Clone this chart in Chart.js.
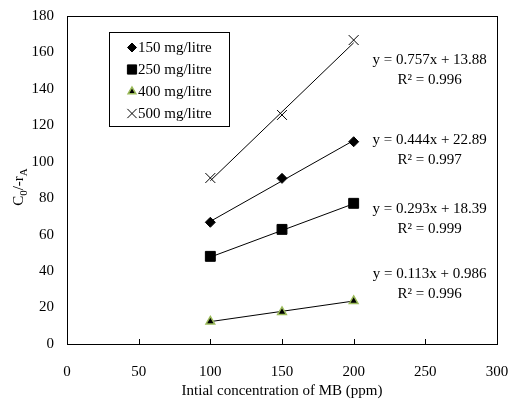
<!DOCTYPE html>
<html>
<head>
<meta charset="utf-8">
<script src="https://cdn.jsdelivr.net/npm/chart.js@4/dist/chart.umd.min.js"></script>
<style>
  body { margin: 0; background: #fff; }
  #wrap { width: 510px; height: 400px; }
</style>
</head>
<body>
<div id="wrap"><canvas id="kinetics_chart" width="510" height="400"></canvas></div>
<script>
// initial MB concentration (ppm)
const xValues = [100, 150, 200];
// C0/-rA for each dose
const series150 = [66.8, 90.9, 111.0];
const series250 = [48.1, 62.9, 77.2];
const series400 = [12.4, 17.6, 23.6];
const series500 = [91.1, 125.7, 166.8];
const seriesNames = ['150 mg/litre', '250 mg/litre', '400 mg/litre', '500 mg/litre'];
// linear trendlines as printed on the chart
const slopes = [0.444, 0.293, 0.113, 0.757];
const intercepts = [22.89, 18.39, 0.986, 13.88];
const eqLabels = ['y = 0.444x + 22.89', 'y = 0.293x + 18.39', 'y = 0.113x + 0.986', 'y = 0.757x + 13.88'];
const r2Labels = ['R\u00b2 = 0.997', 'R\u00b2 = 0.999', 'R\u00b2 = 0.996', 'R\u00b2 = 0.996'];
const xTicks = [0, 50, 100, 150, 200, 250, 300];
const yTicks = [0, 20, 40, 60, 80, 100, 120, 140, 160, 180];

const FONT = "'Liberation Serif', 'Times New Roman', serif";
const allSeries = [series150, series250, series400, series500];
const markers = [
  { pointStyle: 'rectRot', radius: 5, bg: '#000', border: '#000', bw: 1 },
  { pointStyle: 'rect', radius: 7, bg: '#000', border: '#000', bw: 1 },
  { pointStyle: 'triangle', radius: 5, bg: '#000', border: '#9bbb59', bw: 1.5 },
  { pointStyle: 'crossRot', radius: 7, bg: '#000', border: '#000', bw: 1 }
];
// where the equation text sits (data units of the centre between the two lines)
const eqAnchorX = 253;
const eqAnchorY = [106.7, 68.6, 32.9, 150.5];

var datasets = [];
allSeries.forEach(function(s, i){
  datasets.push({
    label: seriesNames[i] + ' trend',
    type: 'line',
    data: [xValues[0], xValues[xValues.length - 1]].map(function(x){
      return { x: x, y: slopes[i] * x + intercepts[i] };
    }),
    borderColor: '#000',
    borderWidth: 1,
    pointRadius: 0,
    fill: false,
    order: 2
  });
});
allSeries.forEach(function(s, i){
  var m = markers[i];
  datasets.push({
    label: seriesNames[i],
    type: 'scatter',
    data: xValues.map(function(x, j){ return { x: x, y: s[j] }; }),
    pointStyle: m.pointStyle,
    pointRadius: m.radius,
    pointHoverRadius: m.radius,
    backgroundColor: m.bg,
    borderColor: m.border,
    pointBorderWidth: m.bw,
    order: 1
  });
});

const framePlugin = {
  id: 'frame',
  beforeDatasetsDraw(chart) {
    const ctx = chart.ctx, a = chart.chartArea, xs = chart.scales.x;
    ctx.save();
    ctx.strokeStyle = '#000';
    ctx.lineWidth = 1;
    ctx.strokeRect(Math.round(a.left) + 0.5, Math.round(a.top) + 0.5,
                   Math.round(a.right - a.left), Math.round(a.bottom - a.top));
    // inside tick marks on x axis
    xTicks.forEach(function(v){
      var px = Math.round(xs.getPixelForValue(v)) + 0.5;
      ctx.beginPath();
      ctx.moveTo(px, a.bottom);
      ctx.lineTo(px, a.bottom - 5);
      ctx.stroke();
    });
    ctx.restore();
  },
  afterDraw(chart) {
    const ctx = chart.ctx, a = chart.chartArea;
    const xs = chart.scales.x, ys = chart.scales.y;
    ctx.save();
    ctx.fillStyle = '#000';
    ctx.font = '15px ' + FONT;
    ctx.textAlign = 'center';
    ctx.textBaseline = 'middle';
    // trendline equations
    eqLabels.forEach(function(t, i){
      var cx = xs.getPixelForValue(eqAnchorX);
      var cy = ys.getPixelForValue(eqAnchorY[i]);
      ctx.fillText(t, cx, cy - 10);
      ctx.fillText(r2Labels[i], cx, cy + 10);
    });

    // legend box
    var lx = 109, ly = 32, lw = 120, lh = 94;
    ctx.fillStyle = '#fff';
    ctx.fillRect(lx, ly, lw, lh);
    ctx.strokeStyle = '#000';
    ctx.lineWidth = 1;
    ctx.strokeRect(lx + 0.5, ly + 0.5, lw, lh);
    ctx.textAlign = 'left';
    seriesNames.forEach(function(name, i){
      var m = markers[i];
      var iy = ly + 15.5 + i * 22;
      ctx.fillStyle = m.bg;
      ctx.strokeStyle = m.border;
      ctx.lineWidth = m.bw;
      Chart.helpers.drawPoint(ctx, { pointStyle: m.pointStyle, radius: m.radius - 0.5, rotation: 0, borderWidth: m.bw }, lx + 23, iy);
      ctx.fillStyle = '#000';
      ctx.fillText(name, lx + 29, iy + 1);
    });

    // y axis title with subscripts: C0/-rA
    ctx.translate(19, (a.top + a.bottom) / 2 + 7);
    ctx.rotate(-Math.PI / 2);
    var parts = [['C', false], ['0', true], ['/-r', false], ['A', true]];
    var total = 0;
    parts.forEach(function(p){
      ctx.font = (p[1] ? '11px ' : '15px ') + FONT;
      total += ctx.measureText(p[0]).width;
    });
    var px = -total / 2;
    parts.forEach(function(p){
      ctx.font = (p[1] ? '11px ' : '15px ') + FONT;
      ctx.fillText(p[0], px, p[1] ? 5 : 0);
      px += ctx.measureText(p[0]).width;
    });
    ctx.restore();
  }
};

var kinetics_chart = new Chart(document.getElementById('kinetics_chart'), {
  type: 'scatter',
  data: { datasets: datasets },
  options: {
    responsive: false,
    animation: false,
    layout: { padding: { left: 0, right: 13, top: 16, bottom: 0 } },
    plugins: {
      legend: { display: false },
      tooltip: { enabled: false }
    },
    scales: {
      x: {
        type: 'linear',
        min: 0, max: 300,
        afterBuildTicks: function(scale){ scale.ticks = xTicks.map(function(v){ return { value: v }; }); },
        afterFit: function(scale){ scale.height = 56; },
        // hidden tick marks only used to push the labels down
        grid: { display: false, drawTicks: true, tickLength: 19 },
        border: { display: false },
        ticks: { color: '#000', font: { family: FONT, size: 15 }, padding: 0, maxRotation: 0 },
        title: { display: true, text: 'Intial concentration of MB (ppm)', color: '#000',
                 font: { family: FONT, size: 15 }, padding: { top: 0, bottom: 0 } }
      },
      y: {
        type: 'linear',
        min: 0, max: 180,
        afterBuildTicks: function(scale){ scale.ticks = yTicks.map(function(v){ return { value: v }; }); },
        afterFit: function(scale){ scale.width = 67; },
        grid: { display: false, drawTicks: true, tickLength: 13 },
        border: { display: false },
        ticks: { color: '#000', font: { family: FONT, size: 15 }, padding: 0 }
      }
    }
  },
  plugins: [framePlugin]
});
</script>
</body>
</html>
